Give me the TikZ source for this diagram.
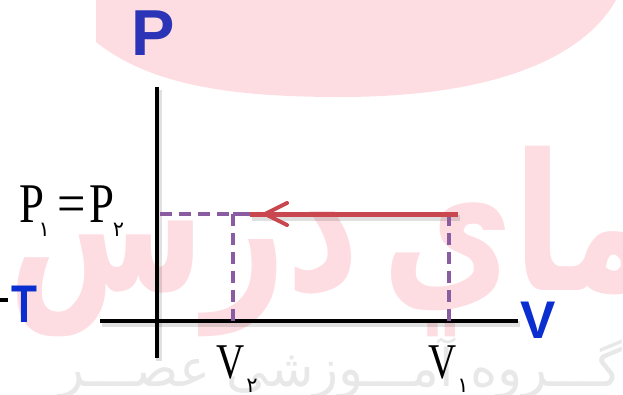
\documentclass[tikz,border=0pt]{standalone}
\usepackage{fontspec}
\usepackage{graphicx}
\setmainfont{Liberation Serif}
\newfontfamily\sansb{Liberation Sans}
\newfontfamily\arfont[Script=Arabic]{DejaVu Sans}
\newfontfamily\wmfont[Script=Arabic,FakeStretch=0.75]{DejaVu Sans}
\TeXXeTstate=1
\definecolor{wmpink}{HTML}{FDDDE2}
\definecolor{wmgray}{HTML}{E8E8E8}
\definecolor{pblue}{HTML}{2B34B6}
\definecolor{vblue}{HTML}{0A2ECF}
\definecolor{linered}{HTML}{C9474F}
\definecolor{dashpurple}{HTML}{8A5CA2}
\newcommand{\cnd}[1]{\scalebox{0.8}[1]{#1}}
\newcommand{\sub}[1]{\raisebox{-14pt}{\arfont\fontsize{21}{21}\selectfont #1}}
\begin{document}
\begin{tikzpicture}[x=1pt,y=-1pt,
  axis/.style={line width=4pt,black},
  shadowline/.style={line width=6pt,black,opacity=0.12},
  procline/.style={line width=5pt,linered},
  guide/.style={line width=4pt,dashpurple,dash pattern=on 12pt off 7pt},
  bluelab/.style={inner sep=0pt,font=\sansb\bfseries\fontsize{53}{53}\selectfont},
  serlab/.style={inner sep=0pt,font=\fontsize{50}{50}\selectfont},
  wmbig/.style={wmpink,inner sep=0pt,anchor=base east,font=\wmfont\bfseries\fontsize{190}{190}\selectfont}]
\useasboundingbox (0,0) rectangle (623,394);
% watermark
\fill[wmpink] (96,0) -- (96,42) .. controls (150,85) and (230,97) .. (340,97) .. controls (500,97) and (585,55) .. (616,0) -- cycle;
\node[wmbig] (wmA) at (655,290) {\beginR ماي\endR};
\node[wmbig] (wmB) at (360,290) {\beginR درس\endR};
\node[wmgray,inner sep=0pt,anchor=base east] (wmgroup) at (622,386)
  {\arfont\fontsize{52}{52}\selectfont\beginR گـــروه آمـــوزشي عصـــر\endR};
% coordinates
\coordinate (yb) at (157,358);
\coordinate (yt) at (157,87);
\coordinate (xl) at (100,321);
\coordinate (xr) at (518,321);
\coordinate (s) at (458,214);
\coordinate (e) at (250,214);
\coordinate (p2) at (233,214);
\coordinate (p1) at (449,214);
\coordinate (y0) at (160,214);
\coordinate (v2) at (233,321);
\coordinate (v1) at (449,321);
\coordinate (tip) at (265,214);
\coordinate (armA) at (287,203);
\coordinate (armB) at (287,225);
\coordinate (d0) at (0,300);
\coordinate (d1) at (8,300);
% shadows
\draw[shadowline] ([shift={(2,3)}]yb) -- ([shift={(2,3)}]yt);
\draw[shadowline] ([shift={(2,3)}]xl) -- ([shift={(2,3)}]xr);
\draw[shadowline] ([shift={(2,4)}]e) -- ([shift={(2,4)}]s);
% axes
\draw[axis] (yb) -- (yt);
\draw[axis] (xl) -- (xr);
\draw[axis] (d0) -- (d1);
% guides
\draw[guide] (y0) -- (p2);
\draw[guide] (p2) -- (v2);
\draw[guide] (p1) -- (v1);
\draw[line width=4pt,dashpurple] (p2) -- (e);
% process line
\draw[procline] (s) -- (e);
\draw[line width=4pt,linered,line cap=round,line join=round] (armA) -- (tip) -- (armB);
% labels
\node[bluelab,pblue,anchor=base,font=\sansb\bfseries\fontsize{65}{65}\selectfont] (Plab) at (153,55) {P};
\node[bluelab,vblue,anchor=base] (Vlab) at (538,338) {V};
\node[bluelab,vblue,anchor=base] (Tlab) at (24.5,322) {\scalebox{0.8}[1]{T}};
\node[serlab,anchor=base west,font=\fontsize{56}{56}\selectfont] (Plabs) at (19,222)
  {\cnd{P}\kern-5.6pt\sub{۱}\kern7.3pt\scalebox{0.9}[1]{=}\kern3.9pt\cnd{P}\kern-1.4pt\sub{۲}};
\node[serlab,anchor=base west] (V2lab) at (216,378) {\scalebox{0.78}[1]{V}\kern2.1pt\sub{۲}};
\node[serlab,anchor=base west] (V1lab) at (428,378) {\scalebox{0.78}[1]{V}\kern1.1pt\sub{۱}};
\end{tikzpicture}
\end{document}
